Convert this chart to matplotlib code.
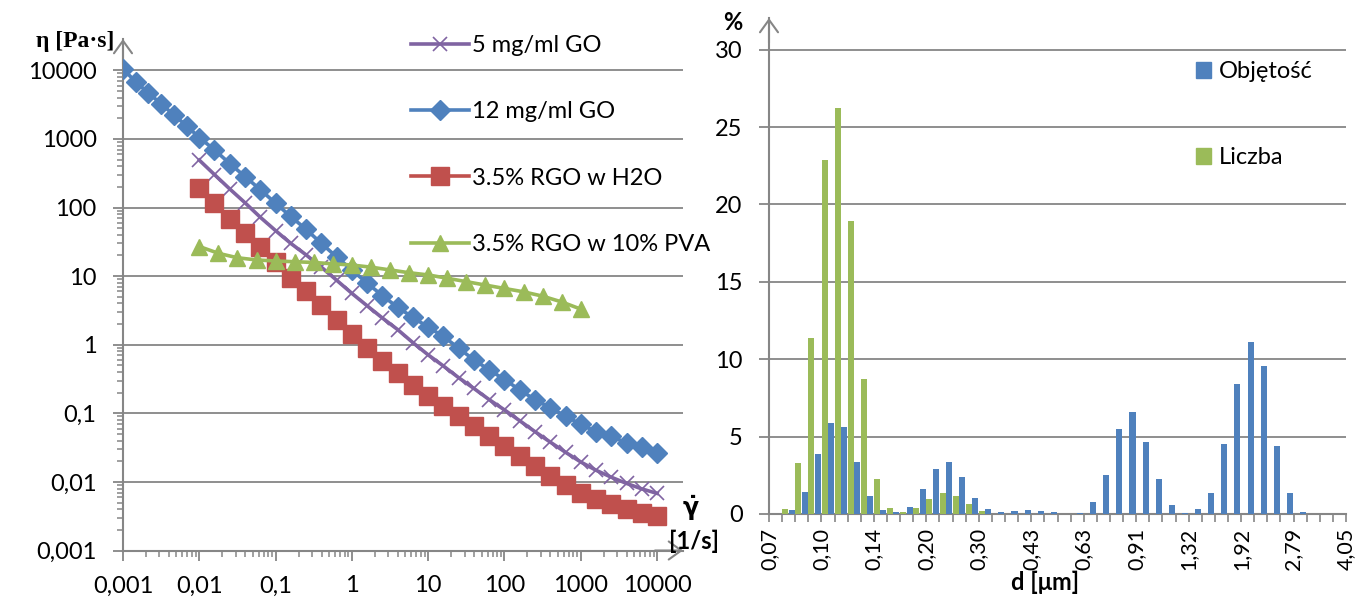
import matplotlib
matplotlib.use('Agg')
import matplotlib.pyplot as plt
from matplotlib.patches import Patch
import numpy as np

plt.rcParams['font.family'] = ['Lato', 'DejaVu Sans']
plt.rcParams['mathtext.fontset'] = 'dejavusans'

# ---------------- data: left chart (viscosity vs shear rate) ----------------
shear_first_decade = [0.001, 0.00147, 0.00215, 0.00316, 0.00464, 0.00681]
shear_5pd = [0.01, 0.0158, 0.0251, 0.0398, 0.0631, 0.1, 0.158, 0.251, 0.398, 0.631,
             1, 1.58, 2.51, 3.98, 6.31, 10, 15.8, 25.1, 39.8, 63.1,
             100, 158, 251, 398, 631, 1000, 1580, 2510, 3980, 6310, 10000]
shear_green = [0.01, 0.0178, 0.0316, 0.0562, 0.1, 0.178, 0.316, 0.562, 1, 1.78, 3.16,
               5.62, 10, 17.8, 31.6, 56.2, 100, 178, 316, 562, 1000]

eta_5mg_GO = [490, 302, 186, 117, 72, 46, 30, 20.4, 13.5, 8.7, 5.6, 3.7, 2.45, 1.66,
              1.07, 0.71, 0.49, 0.33, 0.23, 0.158, 0.112, 0.078, 0.054, 0.038, 0.027,
              0.0195, 0.0148, 0.0117, 0.0095, 0.0079, 0.0068]
eta_12mg_GO = [10500, 6760, 4680, 3240, 2240, 1550,
               1047, 692, 437, 282, 182, 115, 74, 48, 30, 19, 12.3, 7.9, 5.2, 3.5, 2.5,
               1.8, 1.32, 0.89, 0.60, 0.43, 0.31, 0.22, 0.158, 0.12, 0.091, 0.069,
               0.054, 0.046, 0.037, 0.032, 0.026]
eta_RGO_H2O = [190, 115, 69, 43, 27, 15.8, 9.5, 6.0, 3.8, 2.3, 1.45, 0.89, 0.57, 0.39,
               0.26, 0.178, 0.126, 0.091, 0.065, 0.047, 0.033, 0.024, 0.017, 0.0122,
               0.0091, 0.0069, 0.0056, 0.0047, 0.0040, 0.0035, 0.0032]
eta_RGO_PVA = [27, 21.5, 18.5, 17.2, 16.6, 16.2, 15.8, 15.1, 14.5, 13.5, 12.3, 11.2,
               10.4, 9.3, 8.3, 7.4, 6.6, 5.9, 5.1, 4.2, 3.3]

series_labels = ['5 mg/ml GO', '12 mg/ml GO', '3.5% RGO w H2O', '3.5% RGO w 10% PVA']
log_ticks = [0.001, 0.01, 0.1, 1, 10, 100, 1000, 10000]
log_tick_labels = ['0,001', '0,01', '0,1', '1', '10', '100', '1000', '10000']

# ---------------- data: right chart (size distribution) ----------------
bin_edge_labels = ['0,07', '0,10', '0,14', '0,20', '0,30', '0,43', '0,63', '0,91',
                   '1,32', '1,92', '2,79', '4,05']
objetosc = [0, 0.28, 1.44, 3.88, 5.86, 5.6, 3.39, 1.14, 0.26, 0.13, 0.47, 1.61, 2.92,
            3.37, 2.40, 1.01, 0.32, 0.15, 0.18, 0.25, 0.22, 0.1, 0, 0.08, 0.77, 2.55,
            5.51, 6.59, 4.66, 2.27, 0.56, 0.08, 0.3, 1.35, 4.53, 8.39, 11.1, 9.57, 4.38,
            1.35, 0.1, 0, 0, 0]
liczba = [0, 0.3, 3.3, 11.4, 22.9, 26.2, 18.9, 8.7, 2.25, 0.39, 0.15, 0.39, 0.99, 1.37,
          1.18, 0.64, 0.19, 0, 0, 0, 0, 0, 0, 0, 0, 0, 0, 0, 0, 0, 0, 0, 0, 0, 0, 0, 0,
          0, 0, 0, 0, 0, 0, 0]
pct_ticks = [0, 5, 10, 15, 20, 25, 30]

# ---------------- styling ----------------
GRAY = '#868686'
PURPLE = '#8064A2'
BLUE = '#4F81BD'
RED = '#C0504D'
GREEN = '#9BBB59'
FS = 17

W, H = 1360, 599
fig = plt.figure(figsize=(W / 100, H / 100), dpi=100)


def fx(px):
    return px / W


def fy(py):
    return 1 - py / H


def arrow(ax, xy, xytext):
    ax.annotate('', xy=xy, xycoords='axes fraction', xytext=xytext,
                textcoords='axes fraction',
                arrowprops=dict(arrowstyle='->,head_length=0.9,head_width=0.65',
                                color=GRAY, lw=1.5, mutation_scale=10,
                                shrinkA=0, shrinkB=0),
                annotation_clip=False)


# ================= left chart =================
lx0, lx1, ly0, ly1 = 123, 683, 550.5, 39
dec_x, dec_y = 76.3, 68.6
ax1 = fig.add_axes([fx(lx0), fy(ly0), fx(lx1) - fx(lx0), fy(ly1) - fy(ly0)])
ax1.set_xscale('log')
ax1.set_yscale('log')
ax1.set_xlim(1e-3, 10 ** (-3 + (lx1 - lx0) / dec_x))
ax1.set_ylim(1e-3, 10 ** (-3 + (ly0 - ly1) / dec_y))

shear_blue = shear_first_decade + shear_5pd
ax1.plot(shear_5pd, eta_5mg_GO, color=PURPLE, lw=2.6, marker='x', ms=10.5, mew=1.2,
         zorder=3, label=series_labels[0])
ax1.plot(shear_blue, eta_12mg_GO, color=BLUE, lw=2.6, marker='D', ms=10.5, zorder=4,
         label=series_labels[1])
ax1.plot(shear_5pd, eta_RGO_H2O, color=RED, lw=2.6, marker='s', ms=12.5, zorder=5,
         label=series_labels[2])
ax1.plot(shear_green, eta_RGO_PVA, color=GREEN, lw=2.6, marker='^', ms=12, zorder=6,
         label=series_labels[3])

minor = [m * 10.0 ** e for e in range(-3, 4) for m in range(2, 10)]
for axis in (ax1.xaxis, ax1.yaxis):
    axis.set_major_locator(plt.FixedLocator(log_ticks))
    axis.set_minor_locator(plt.FixedLocator(minor))
    axis.set_minor_formatter(plt.NullFormatter())
ax1.set_xticks(log_ticks, log_tick_labels)
ax1.set_yticks(log_ticks, log_tick_labels)
ax1.tick_params(which='major', length=7, width=1.3, color=GRAY, labelsize=FS)
ax1.tick_params(which='minor', length=4, width=1.1, color=GRAY)
ax1.tick_params(axis='x', which='major', pad=11)
ax1.tick_params(axis='y', which='major', pad=12)
ax1.yaxis.grid(True, which='major', color=GRAY, lw=1.3)
ax1.set_axisbelow(True)
for s in ('top', 'right'):
    ax1.spines[s].set_visible(False)
for s in ('left', 'bottom'):
    ax1.spines[s].set_color(GRAY)
    ax1.spines[s].set_linewidth(1.5)
arrow(ax1, (0, 1), (0, 0.95))
arrow(ax1, (1, 0), (0.95, 0))

ax1.legend(loc='upper left', bbox_to_anchor=(fx(411), fy(35)),
           bbox_transform=fig.transFigure, frameon=False, fontsize=FS,
           handlelength=2.45, handletextpad=0.12, labelspacing=1.92,
           borderpad=0, borderaxespad=0)

fig.text(fx(75), fy(42), 'η [Pa·s]', family=['Liberation Serif', 'DejaVu Serif'],
         weight='bold', size=17, ha='center', va='center')
fig.text(fx(691), fy(508), r'$\mathbf{\dot{\gamma}}$', size=17, ha='center',
         va='center')
fig.text(fx(694), fy(541), '[1/s]', weight='bold', size=FS, ha='center', va='center')

# ================= right chart =================
rx0, rx1, ry0, ry_top = 769, 1346, 514, 18
unit = 15.48
nb = len(objetosc)
ax2 = fig.add_axes([fx(rx0), fy(ry0), fx(rx1) - fx(rx0), fy(ry_top) - fy(ry0)])
ax2.set_xlim(0, nb)
ax2.set_ylim(0, (ry0 - ry_top) / unit)
idx = np.arange(nb)
ax2.bar(idx + 0.235, liczba, width=0.46, color=GREEN, zorder=3, label='Liczba')
ax2.bar(idx + 0.72, objetosc, width=0.46, color=BLUE, zorder=3, label='Objętość')

ax2.set_yticks(pct_ticks, [str(t) for t in pct_ticks])
ax2.set_xticks(np.arange(0, nb + 1, 4), bin_edge_labels, rotation=90)
ax2.set_xticks(np.arange(0, nb + 1), minor=True)
ax2.tick_params(axis='x', which='both', length=6, width=1.2, color=GRAY, pad=4,
                labelsize=15.5)
ax2.tick_params(axis='y', which='major', length=7, width=1.3, color=GRAY, pad=12,
                labelsize=FS)
ax2.yaxis.grid(True, color=GRAY, lw=1.3)
ax2.set_axisbelow(True)
for s in ('top', 'right'):
    ax2.spines[s].set_visible(False)
for s in ('left', 'bottom'):
    ax2.spines[s].set_color(GRAY)
    ax2.spines[s].set_linewidth(1.5)
arrow(ax2, (0, 1), (0, 0.95))

handles = [Patch(color=BLUE, label='Objętość'), Patch(color=GREEN, label='Liczba')]
ax2.legend(handles=handles, loc='upper left', bbox_to_anchor=(fx(1196), fy(61)),
           bbox_transform=fig.transFigure, frameon=False, fontsize=FS,
           handlelength=0.65, handleheight=0.65, handletextpad=0.3, labelspacing=2.75,
           borderpad=0, borderaxespad=0)

fig.text(fx(733), fy(22), '%', weight='bold', size=FS, ha='center', va='center')
fig.text(fx(1045), fy(582), 'd [μm]', weight='bold', size=FS, ha='center',
         va='center')

fig.savefig('out.png', dpi=100, facecolor='white')
